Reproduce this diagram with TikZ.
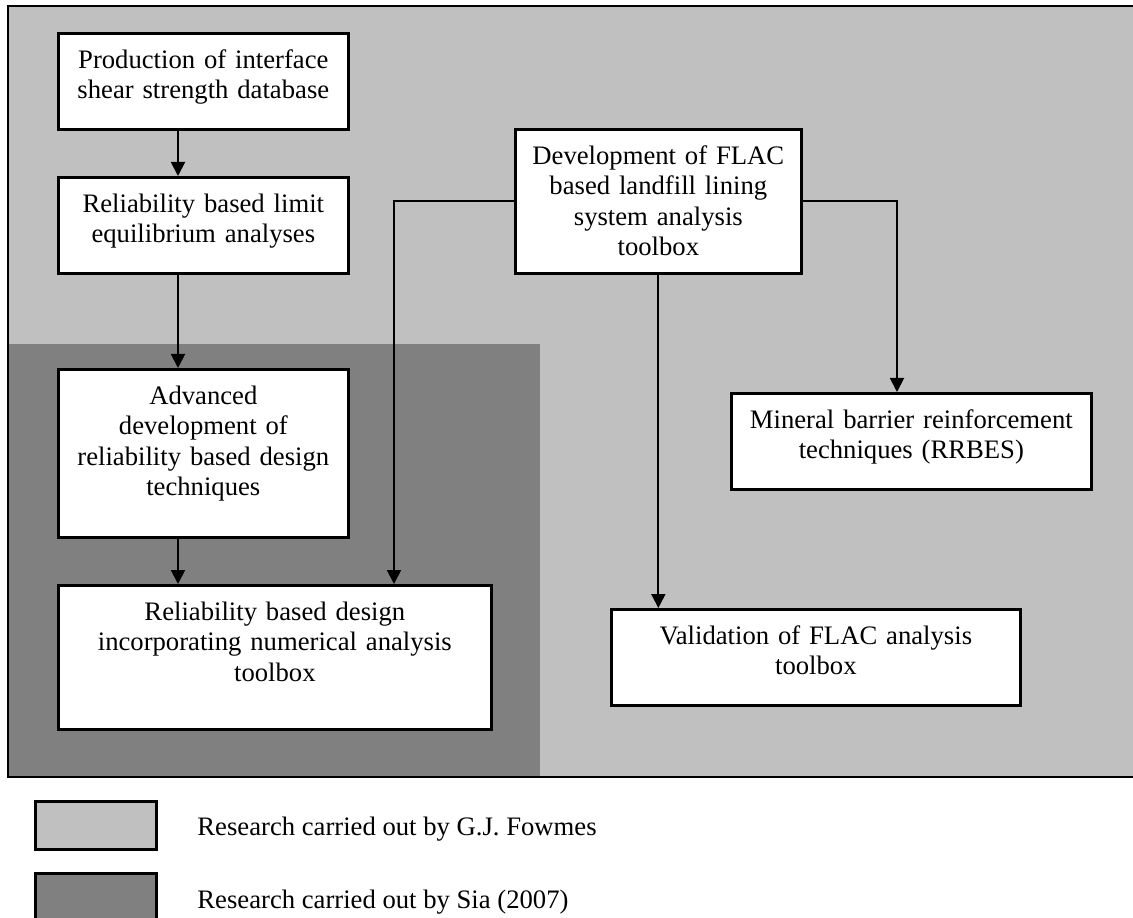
\documentclass[tikz,border=0pt]{standalone}
\usepackage{fontspec}
\setmainfont{Liberation Serif}
\usetikzlibrary{arrows.meta, positioning}

\definecolor{fowmes}{HTML}{C0C0C0}
\definecolor{sia}{HTML}{808080}

\begin{document}
\begin{tikzpicture}[
  x=0.45pt, y=-0.45pt,
  font=\fontsize{12}{13.7}\selectfont,
  stage/.style={draw, fill=white, line width=1.2pt, inner sep=0pt,
    align=center, anchor=north west, text height=15.75pt},
  flow/.style={line width=0.85pt, -{Triangle[length=6.3pt, width=6.3pt]}},
  swatch/.style={draw, line width=1.2pt, anchor=north west,
    minimum width=54.45pt, inner sep=0pt}]

  \useasboundingbox (0,0) rectangle (1133,918);

  \fill[fowmes] (8,6) rectangle (1133,777);
  \fill[sia] (8,344) rectangle (540,777);
  \draw[line width=1pt] (1133,6) -- (8,6) -- (8,777) -- (1133,777);

  \node[stage, text width=130.5pt, text depth=27.45pt] (database) at (57,32)
    {Production of interface\\shear strength database};
  \node[stage, text width=130.5pt, text depth=27.45pt] (limiteq) at (57,176)
    {Reliability based limit\\equilibrium analyses};
  \node[stage, text width=130.5pt, text depth=59.85pt] (advanced) at (57,368)
    {Advanced\\development of\\reliability based design\\techniques};
  \node[stage, text width=194.85pt, text depth=49.05pt] (rbdesign) at (57,584)
    {Reliability based design\\incorporating numerical analysis\\toolbox};
  \node[stage, text width=128.7pt, text depth=49.05pt] (flac) at (514,128)
    {Development of FLAC\\based landfill lining\\system analysis\\toolbox};
  \node[stage, text width=162pt, text depth=27.45pt] (mineral) at (730,392)
    {Mineral barrier reinforcement\\techniques (RRBES)};
  \node[stage, text width=184.05pt, text depth=27.45pt] (validation) at (610,608)
    {Validation of FLAC analysis\\toolbox};

  \coordinate (colA) at (178,0);
  \coordinate (colL) at (394,0);
  \coordinate (colR) at (897,0);

  \draw[flow] (colA |- database.south) -- (colA |- limiteq.north);
  \draw[flow] (colA |- limiteq.south) -- (colA |- advanced.north);
  \draw[flow] (colA |- advanced.south) -- (colA |- rbdesign.north);
  \draw[flow] (flac.west) -| (colL |- rbdesign.north);
  \draw[flow] (flac.east) -| (colR |- mineral.north);
  \draw[flow] (flac.south) -- (flac.south |- validation.north);

  \node[swatch, fill=fowmes, minimum height=21.6pt] (keyfowmes) at (34,800) {};
  \node[swatch, fill=sia, minimum height=22.5pt] (keysia) at (34,872) {};
  \node[anchor=base west, inner sep=0pt] (textfowmes) at (197,835)
    {Research carried out by G.J. Fowmes};
  \node[anchor=base west, inner sep=0pt] (textsia) at (197,908)
    {Research carried out by Sia (2007)};
\end{tikzpicture}
\end{document}
